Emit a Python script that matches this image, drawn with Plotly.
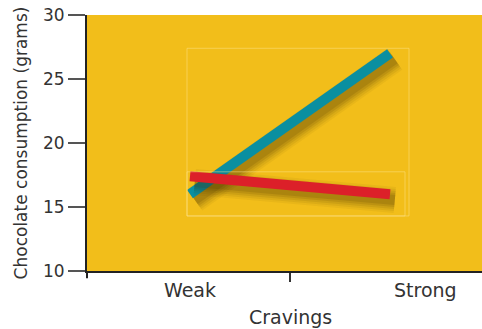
import plotly.graph_objects as go

# Craving strength levels and their positions on the x axis
craving_levels = ["Weak", "Strong"]
level_x = [0.0, 1.0]
label_x = [0.0, 1.175]          # where the category labels sit
mid_tick = [0.5]

# Mean chocolate consumption (grams) for the two groups
teal_group = [16.0, 27.0]
red_group = [17.4, 16.0]

y_ticks = [10, 15, 20, 25, 30]

TEAL = "#0A8FA0"
RED = "#DC2029"
GOLD = "#F2BE1A"
INK = "#333333"
FONT = "DejaVu Sans"

# drop-shadow offset (data units) and soft layers, widest first
SH_DX, SH_DY = 0.024, -0.45
shadow_layers = [(26, 0.05), (22, 0.07), (18, 0.09), (14, 0.11), (10, 0.13)]

fig = go.Figure()


def add_line(ys, color):
    sx = [x + SH_DX for x in level_x]
    sy = [y + SH_DY for y in ys]
    for w, a in shadow_layers:
        fig.add_trace(go.Scatter(
            x=sx, y=sy, mode="lines",
            line=dict(color=f"rgba(60,40,0,{a})", width=w),
            hoverinfo="skip", showlegend=False))
    fig.add_trace(go.Scatter(
        x=level_x, y=ys, mode="lines",
        line=dict(color=color, width=10),
        showlegend=False))


add_line(teal_group, TEAL)
add_line(red_group, RED)

# faint outline boxes around the series
box_line = dict(color="rgba(255,230,150,0.45)", width=1)
fig.add_shape(type="rect", xref="x", yref="y",
              x0=-0.015, x1=1.095, y0=14.3, y1=27.4, line=box_line)
fig.add_shape(type="rect", xref="x", yref="y",
              x0=-0.015, x1=1.075, y0=14.3, y1=17.75, line=box_line)

# small extension of the y axis line below the x axis
fig.add_shape(type="line", xref="paper", yref="paper",
              x0=0, x1=0, y0=0, y1=-0.028,
              line=dict(color="#222222", width=2))

for txt, x in zip(craving_levels, label_x):
    fig.add_annotation(x=x, y=0, xref="x", yref="paper", text=txt,
                       showarrow=False, yanchor="middle", yshift=-19,
                       font=dict(family=FONT, size=19, color=INK))

fig.add_annotation(x=mid_tick[0], y=0, xref="x", yref="paper",
                   text="Cravings", showarrow=False, yanchor="middle",
                   yshift=-46, font=dict(family=FONT, size=19, color=INK))

fig.update_layout(
    width=482, height=329,
    margin=dict(l=87, r=0, t=15, b=58),
    paper_bgcolor="white",
    plot_bgcolor=GOLD,
    font=dict(family=FONT, color=INK),
    xaxis=dict(
        range=[-0.515, 1.46], showgrid=False, zeroline=False,
        showline=True, linecolor="#222222", linewidth=2,
        tickvals=mid_tick, ticktext=[""], ticks="outside",
        ticklen=9, tickwidth=1.5, tickcolor="#333333",
        fixedrange=True),
    yaxis=dict(
        range=[10, 30], showgrid=False, zeroline=False,
        showline=True, linecolor="#222222", linewidth=2,
        tickvals=y_ticks, ticks="outside", ticklen=17,
        tickwidth=1.5, tickcolor="#555555",
        tickfont=dict(family=FONT, size=17, color=INK),
        title=dict(text="Chocolate consumption (grams)", standoff=11,
                   font=dict(family=FONT, size=17, color=INK)),
        fixedrange=True),
)

fig.write_html("out.html")
